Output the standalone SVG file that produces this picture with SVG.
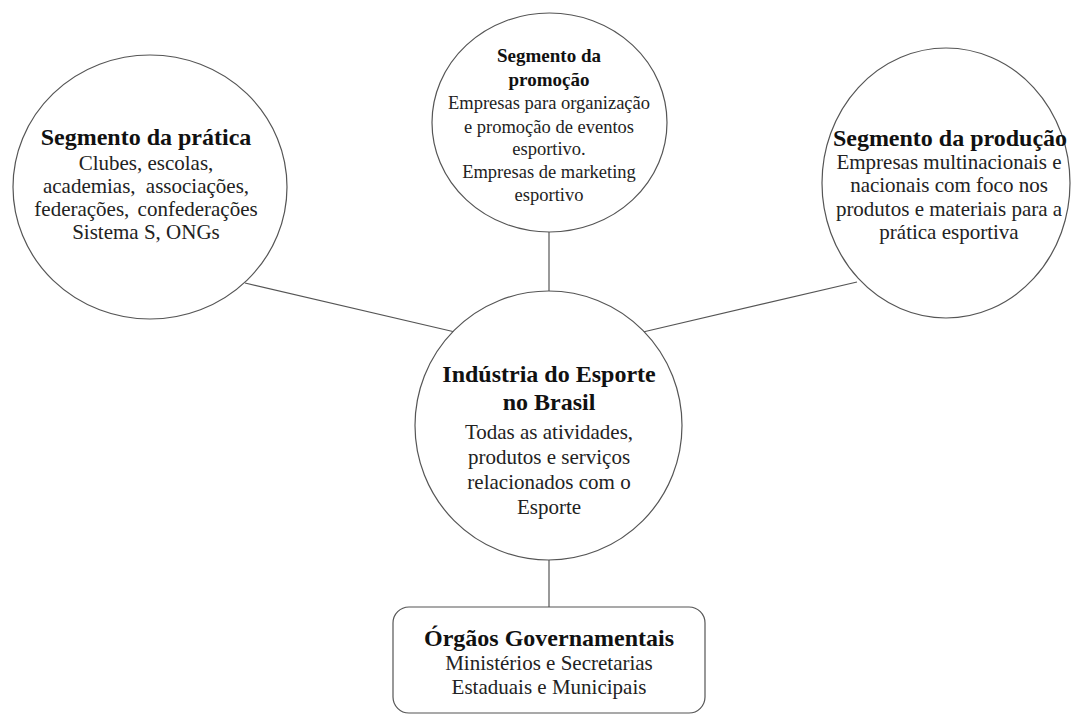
<svg xmlns="http://www.w3.org/2000/svg" width="1071" height="715" viewBox="0 0 1071 715">
<style>
.shape{fill:#fff;stroke:#555;stroke-width:1.2}
.conn{stroke:#555;stroke-width:1.2;fill:none}
text{font-family:"Liberation Serif","Times New Roman",serif;text-anchor:middle}
.t{font-weight:bold;font-size:24px;fill:#111}
.b{font-size:21px;fill:#222}
.ts{font-weight:bold;font-size:19px;fill:#111}
.bs{font-size:18.5px;fill:#222}
</style>
<rect width="1071" height="715" fill="#fff"/>
<g id="connectors">
<line class="conn" x1="245" y1="283" x2="455" y2="332"/>
<line class="conn" x1="549" y1="232" x2="549" y2="291"/>
<line class="conn" x1="643" y1="332" x2="857" y2="282"/>
<line class="conn" x1="549" y1="560" x2="549" y2="607"/>
</g>
<g id="pratica">
<ellipse class="shape" cx="150" cy="187" rx="137" ry="132"/>
<text class="t" x="146" y="145">Segmento da prática</text>
<text class="b" x="146" y="170">Clubes, escolas,</text>
<text class="b" x="146" y="193" word-spacing="5">academias, associações,</text>
<text class="b" x="146" y="216" word-spacing="3">federações, confederações</text>
<text class="b" x="146" y="239">Sistema S, ONGs</text>
</g>
<g id="promocao">
<ellipse class="shape" cx="549.5" cy="122.5" rx="117.5" ry="109.5"/>
<text class="ts" x="549" y="62">Segmento da</text>
<text class="ts" x="549" y="86">promoção</text>
<text class="bs" x="549" y="109">Empresas para organização</text>
<text class="bs" x="549" y="133">e promoção de eventos</text>
<text class="bs" x="549" y="155">esportivo.</text>
<text class="bs" x="549" y="178">Empresas de marketing</text>
<text class="bs" x="549" y="201">esportivo</text>
</g>
<g id="producao">
<ellipse class="shape" cx="946" cy="183" rx="124" ry="135"/>
<text class="t" x="950" y="146">Segmento da produção</text>
<text class="b" x="949" y="169">Empresas multinacionais e</text>
<text class="b" x="949" y="192">nacionais com foco nos</text>
<text class="b" x="949" y="216">produtos e materiais para a</text>
<text class="b" x="949" y="239">prática esportiva</text>
</g>
<g id="industria">
<ellipse class="shape" cx="548.5" cy="425.5" rx="133.5" ry="134.5"/>
<text class="t" x="549" y="382">Indústria do Esporte</text>
<text class="t" x="549" y="410">no Brasil</text>
<text class="b" x="549" y="439">Todas as atividades,</text>
<text class="b" x="549" y="464">produtos e serviços</text>
<text class="b" x="549" y="489">relacionados com o</text>
<text class="b" x="549" y="514">Esporte</text>
</g>
<g id="orgaos">
<rect class="shape" x="393" y="607" width="312" height="106" rx="16" ry="16"/>
<text class="t" x="549" y="646">Órgãos Governamentais</text>
<text class="b" x="549" y="670">Ministérios e Secretarias</text>
<text class="b" x="549" y="694">Estaduais e Municipais</text>
</g>
</svg>
